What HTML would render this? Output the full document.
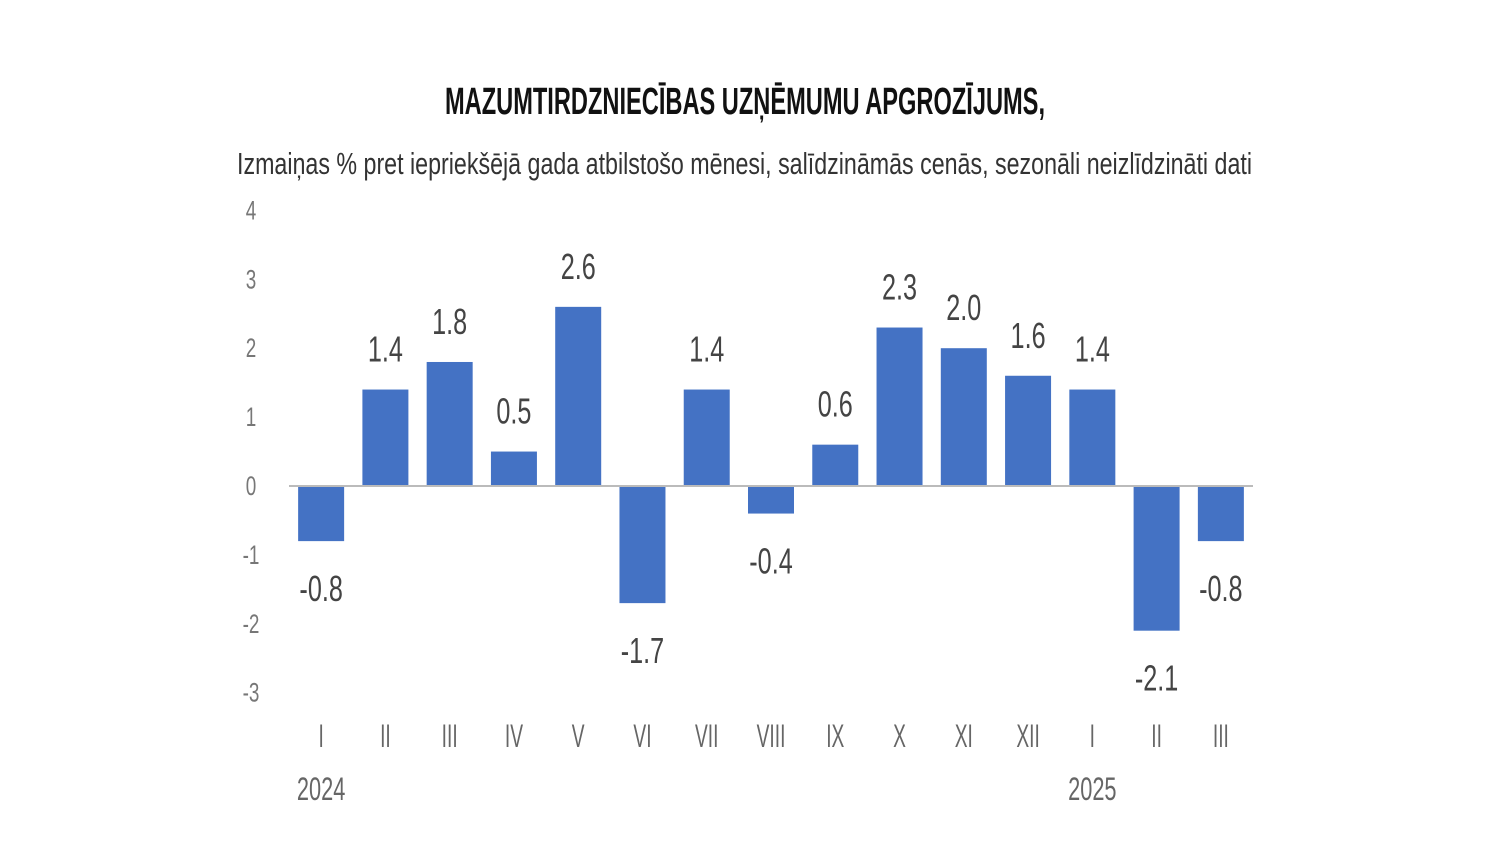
<!DOCTYPE html>
<html><head><meta charset="utf-8"><style>
html,body{margin:0;padding:0;background:#fff;}
svg{display:block;font-family:"Liberation Sans Narrow","Liberation Sans",sans-serif;}
</style></head><body>
<svg id="chart" width="1500" height="860" viewBox="0 0 1500 860">
<text x="445" y="114" font-size="38" font-weight="bold" fill="#111" textLength="600" lengthAdjust="spacingAndGlyphs">MAZUMTIRDZNIECĪBAS UZŅĒMUMU APGROZĪJUMS,</text>
<text x="237" y="174" font-size="31" fill="#333" textLength="1015" lengthAdjust="spacingAndGlyphs">Izmaiņas % pret iepriekšējā gada atbilstošo mēnesi, salīdzināmās cenās, sezonāli neizlīdzināti dati</text>
<g id="plot"></g>
</svg>
<script>
const categories = ["I","II","III","IV","V","VI","VII","VIII","IX","X","XI","XII","I","II","III"];
const values = [-0.8,1.4,1.8,0.5,2.6,-1.7,1.4,-0.4,0.6,2.3,2.0,1.6,1.4,-2.1,-0.8];
const yTicks = [4,3,2,1,0,-1,-2,-3];
const years = [{label:"2024", index:0},{label:"2025", index:12}];

const NS = "http://www.w3.org/2000/svg";
const g = document.getElementById("plot");
const left = 289, right = 1253, zeroY = 486, unit = 68.9;
const band = (right-left)/categories.length;
const barW = 46;
const y = v => zeroY - v*unit;
const xc = i => left + band*(i+0.5);

function txt(x, yy, s, size, fill, sx){
  const t = document.createElementNS(NS,"text");
  t.setAttribute("transform","translate("+x+","+yy+") scale("+sx+",1)");
  t.setAttribute("text-anchor","middle");
  t.setAttribute("font-size",size);
  t.setAttribute("fill",fill);
  t.textContent = s;
  g.appendChild(t);
  return t;
}

yTicks.forEach(v=>{
  const t = txt(251, y(v)+9, String(v), 27, "#777", 0.7);
  
  
});

values.forEach((v,i)=>{
  const r = document.createElementNS(NS,"rect");
  r.setAttribute("x", xc(i)-barW/2);
  r.setAttribute("y", Math.min(y(v), zeroY));
  r.setAttribute("width", barW);
  r.setAttribute("height", Math.abs(y(v)-zeroY));
  r.setAttribute("fill","#4472c4");
  
  
  g.appendChild(r);
  const ly = v >= 0 ? y(v) - 28 : y(v) + 60;
  const t = txt(xc(i), ly, v.toFixed(1), 36, "#444", 0.7);
  
  
  const c = txt(xc(i), 747, categories[i], 32, "#666", 0.6);
  
  
});

const ax = document.createElementNS(NS,"line");
ax.setAttribute("x1",left); ax.setAttribute("x2",right);
ax.setAttribute("y1",zeroY); ax.setAttribute("y2",zeroY);
ax.setAttribute("stroke","#bbb"); ax.setAttribute("stroke-width","2");


g.appendChild(ax);

years.forEach(yr=>{
  const t = txt(xc(yr.index), 800, yr.label, 32, "#666", 0.68);
  
  
});
</script>
</body></html>
